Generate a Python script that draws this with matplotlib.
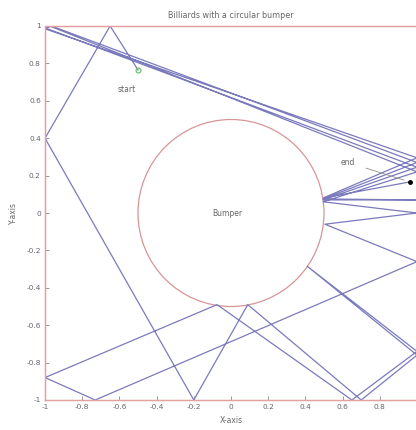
import numpy as np
import matplotlib
matplotlib.use("Agg")
import matplotlib.pyplot as plt
from matplotlib.patches import Circle

# table edges and bumper
table_x = [-1, 1, 1, -1, -1]
table_y = [-1, -1, 1, 1, -1]
bumper_center = (0.0, 0.0)
bumper_radius = 0.5

# ball path, start to end
path_x = [-0.50, -0.65, -1.00, -0.20, 0.09, 0.70, 1.00, 0.41, 1.00, 0.65,
          -0.075, -1.00, -0.73, 1.00, 0.505, 1.00, 0.495, 1.00, -0.975, -1.00,
          1.00, 0.495, 1.00, 0.495, 1.00, -0.965, -1.00, 1.00, 0.495, 0.96]
path_y = [0.765, 1.00, 0.40, -1.00, -0.49, -1.00, -0.76, -0.285, -0.74, -1.00,
          -0.49, -0.88, -1.00, -0.26, -0.06, 0.00, 0.06, 0.22, 1.00, 0.99,
          0.245, 0.07, 0.07, 0.075, 0.27, 1.00, 0.985, 0.295, 0.08, 0.166]

start_label_xy = (-0.56, 0.66)
end_label_xy = (0.63, 0.27)

xticks = [-1, -0.8, -0.6, -0.4, -0.2, 0, 0.2, 0.4, 0.6, 0.8]
xtick_labels = ["-1", "-0.8", "-0.6", "-0.4", "-0.2", "0", "0.2", "0.4", "0.6", "0.8"]
yticks = [-1, -0.8, -0.6, -0.4, -0.2, 0, 0.2, 0.4, 0.6, 0.8, 1]
ytick_labels = ["-1", "-0.8", "-0.6", "-0.4", "-0.2", "0", "0.2", "0.4", "0.6", "0.8", "1"]

fig = plt.figure(figsize=(4.16, 4.30), dpi=100)
ax = fig.add_axes([45 / 416, 30 / 430, 372 / 416, 374 / 430])

ax.plot(path_x, path_y, color="#7a7abd", linewidth=0.9)
ax.plot(table_x, table_y, color="#e4a0a0", linewidth=1.0, clip_on=False)
ax.add_patch(Circle(bumper_center, bumper_radius, fill=False,
                    edgecolor="#d69696", linewidth=0.9))

# start and end markers
ax.plot(path_x[0], path_y[0], "o", mfc="none", mec="#70c070", ms=3.5, mew=0.9)
ax.plot(path_x[-1], path_y[-1], "o", color="black", ms=2.5)
ax.text(*start_label_xy, "start", fontsize=5.5, color="#666666",
        ha="center", va="center")
ax.annotate("end", xy=(path_x[-1] - 0.03, path_y[-1] + 0.01), xytext=end_label_xy,
            fontsize=5.5, color="#666666", ha="center", va="center",
            arrowprops=dict(arrowstyle="-", color="#909090", lw=0.6,
                            shrinkA=6, shrinkB=0))
ax.text(-0.02, 0, "Bumper", fontsize=5.5, color="#666666", ha="center", va="center")

ax.set_xlim(-1, 1)
ax.set_ylim(-1, 1)
ax.set_xticks(xticks)
ax.set_yticks(yticks)
ax.set_xticklabels(xtick_labels)
ax.set_yticklabels(ytick_labels)
ax.tick_params(direction="in", length=3, width=0.6, labelsize=5.3,
               colors="#888888", labelcolor="#666666", pad=3)
for spine in ax.spines.values():
    spine.set_color("#e4a0a0")
    spine.set_linewidth(0.8)

ax.set_title("Billiards with a circular bumper", fontsize=5.8, color="#666666", pad=6)
ax.set_xlabel("X-axis", fontsize=5.5, color="#666666", labelpad=4)
ax.set_ylabel("Y-axis", fontsize=5.5, color="#666666", labelpad=6)

fig.savefig("out.png", dpi=100)
